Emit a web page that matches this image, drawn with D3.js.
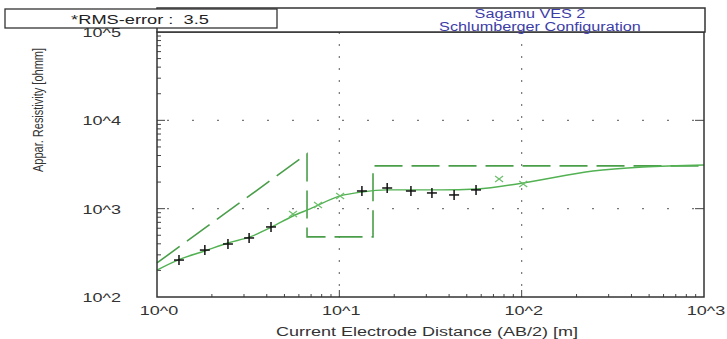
<!DOCTYPE html>
<html>
<head>
<meta charset="utf-8">
<script src="https://cdn.jsdelivr.net/npm/d3@7/dist/d3.min.js"></script>
<style>
  html, body { margin: 0; padding: 0; background: #fff; }
  svg { display: block; font-family: "Liberation Sans", Arial, sans-serif; }
</style>
</head>
<body>
<svg id="chart" width="727" height="339"></svg>
<script>
// Field sounding: AB/2 [m] and apparent resistivity [ohm m]
const obsAB2  = [1.32, 1.83, 2.45, 3.2, 4.22, 13.3, 18.3, 24.7, 32.2, 42.6, 56.2];
const obsRho  = [262, 340, 398, 466, 621, 1585, 1714, 1585, 1506, 1430, 1630];
// Points excluded from the inversion
const skipAB2 = [5.57, 7.64, 10.1, 75.2, 102];
const skipRho = [871, 1101, 1393, 2172, 1905];
// Calculated sounding curve
const fitAB2 = [1, 1.30, 1.83, 2.45, 3.24, 4.27, 5.57, 6.91, 10.1, 13.3, 18.3, 24.4, 35.7, 56.9, 102, 246, 463, 1000];
const fitRho = [202, 262, 332, 409, 479, 621, 826, 993, 1393, 1546, 1630, 1630, 1630, 1671, 1954, 2673, 2965, 3126];
// Layered model (depth vs. resistivity)
const modelDepth = [1, 6.65, 6.65, 15.3, 15.3, 1000];
const modelRho   = [243, 4170, 479, 479, 3050, 3050];
// Axis decades
const xTickVals = [1, 10, 100, 1000];
const xTickText = ["10^0", "10^1", "10^2", "10^3"];
const yTickVals = [100, 1000, 10000, 100000];
const yTickText = ["10^2", "10^3", "10^4", "10^5"];

const svg = d3.select("#chart");
const L = 157, R = 704, T = 32, B = 297;
const x = d3.scaleLog().domain([1, 1000]).range([L, R]);
const y = d3.scaleLog().domain([100, 100000]).range([B, T]);

const green = "#52b152";
const dashGreen = "#4a9e4a";

// widen text horizontally to the printout's proportions
function widen(sel, f) {
  sel.each(function () {
    const w = this.getComputedTextLength();
    d3.select(this).attr("textLength", w * f).attr("lengthAdjust", "spacingAndGlyphs");
  });
  return sel;
}

// grid at whole decades
svg.append("g").selectAll("line").data([10, 100]).join("line")
  .attr("x1", d => x(d)).attr("x2", d => x(d)).attr("y1", T).attr("y2", B)
  .attr("stroke", "#777").attr("stroke-width", 1.2).attr("stroke-dasharray", "2,10");
svg.append("g").selectAll("line").data([1000, 10000]).join("line")
  .attr("x1", L).attr("x2", R).attr("y1", d => y(d)).attr("y2", d => y(d))
  .attr("stroke", "#777").attr("stroke-width", 1.2).attr("stroke-dasharray", "2,23")
  .attr("stroke-dashoffset", -10);

// minor and major ticks
const minorY = [], minorX = [];
for (let e = 2; e < 5; e++) for (let m = 2; m <= 9; m++) minorY.push(m * Math.pow(10, e));
for (let e = 0; e < 3; e++) for (let m = 2; m <= 9; m++) minorX.push(m * Math.pow(10, e));
const ticks = svg.append("g").attr("stroke", "#444").attr("stroke-width", 1);
ticks.selectAll(".ly").data(minorY).join("line")
  .attr("x1", L).attr("x2", L + 4).attr("y1", d => y(d)).attr("y2", d => y(d));
ticks.selectAll(".lY").data(yTickVals.slice(1, 3)).join("line")
  .attr("x1", L).attr("x2", L + 8).attr("y1", d => y(d)).attr("y2", d => y(d));
ticks.selectAll(".rY").data(yTickVals.slice(1, 3)).join("line")
  .attr("x1", R - 9).attr("x2", R).attr("y1", d => y(d)).attr("y2", d => y(d));
ticks.selectAll(".bx").data(minorX).join("line")
  .attr("x1", d => x(d)).attr("x2", d => x(d)).attr("y1", B).attr("y2", B - 3);
ticks.selectAll(".bX").data([10, 100]).join("line")
  .attr("x1", d => x(d)).attr("x2", d => x(d)).attr("y1", B).attr("y2", B - 7);

// layered model
svg.append("path")
  .datum(modelDepth.map((d, i) => [d, modelRho[i]]))
  .attr("d", d3.line().x(d => x(d[0])).y(d => y(d[1])))
  .attr("fill", "none").attr("stroke", dashGreen).attr("stroke-width", 1.6)
  .attr("stroke-dasharray", "28,9");

// calculated curve
svg.append("path")
  .datum(fitAB2.map((d, i) => [d, fitRho[i]]))
  .attr("d", d3.line().curve(d3.curveMonotoneX).x(d => x(d[0])).y(d => y(d[1])))
  .attr("fill", "none").attr("stroke", green).attr("stroke-width", 1.4);

// observed points
const plus = svg.append("g").attr("stroke", "#111").attr("stroke-width", 1.5);
obsAB2.forEach((d, i) => {
  const cx = x(d), cy = y(obsRho[i]);
  plus.append("line").attr("x1", cx - 5).attr("x2", cx + 5).attr("y1", cy).attr("y2", cy);
  plus.append("line").attr("x1", cx).attr("x2", cx).attr("y1", cy - 5).attr("y2", cy + 5);
});
const cross = svg.append("g").attr("stroke", "#6cbf6c").attr("stroke-width", 1.2);
skipAB2.forEach((d, i) => {
  const cx = x(d), cy = y(skipRho[i]);
  cross.append("line").attr("x1", cx - 4).attr("x2", cx + 4).attr("y1", cy - 3).attr("y2", cy + 3);
  cross.append("line").attr("x1", cx - 4).attr("x2", cx + 4).attr("y1", cy + 3).attr("y2", cy - 3);
});

// frame
svg.append("rect").attr("x", L).attr("y", T).attr("width", R - L).attr("height", B - T)
  .attr("fill", "none").attr("stroke", "#333").attr("stroke-width", 1.5);

// title box
svg.append("rect").attr("x", L).attr("y", 8).attr("width", R - L + 1).attr("height", T - 8)
  .attr("fill", "#fff").attr("stroke", "#333").attr("stroke-width", 1.5);
widen(svg.append("text").attr("x", 530).attr("y", 17.5).attr("text-anchor", "middle")
  .attr("font-size", 12).attr("fill", "#3d3da8").text("Sagamu VES 2"), 1.35);
widen(svg.append("text").attr("x", 540).attr("y", 30.5).attr("text-anchor", "middle")
  .attr("font-size", 12).attr("fill", "#3d3da8").text("Schlumberger Configuration"), 1.35);

// rms box
svg.append("rect").attr("x", 5).attr("y", 9).attr("width", 272).attr("height", 19)
  .attr("fill", "#fff").attr("stroke", "#333").attr("stroke-width", 1.3);
widen(svg.append("text").attr("x", 140).attr("y", 23.5).attr("text-anchor", "middle")
  .attr("font-size", 13.5).attr("fill", "#222").attr("xml:space", "preserve")
  .text("*RMS-error :  3.5"), 1.35);

// tick labels
widen(svg.append("g").selectAll("text").data(yTickVals).join("text")
  .attr("x", 121).attr("y", d => y(d) + 5).attr("text-anchor", "end")
  .attr("font-size", 12).attr("fill", "#333")
  .text((d, i) => yTickText[i]), 1.5);
widen(svg.append("g").selectAll("text").data(xTickVals).join("text")
  .attr("x", d => x(d) + 2).attr("y", 315).attr("text-anchor", "middle")
  .attr("font-size", 12).attr("fill", "#333")
  .text((d, i) => xTickText[i]), 1.5);

// axis titles
widen(svg.append("text").attr("x", 427).attr("y", 336).attr("text-anchor", "middle")
  .attr("font-size", 12).attr("fill", "#333")
  .text("Current Electrode Distance (AB/2) [m]"), 1.5);
svg.append("text").attr("transform", "translate(43,110) rotate(-90) scale(1,1.3)")
  .attr("text-anchor", "middle").attr("font-size", 11).attr("fill", "#333")
  .text("Appar. Resistivity [ohmm]");
</script>
</body>
</html>
